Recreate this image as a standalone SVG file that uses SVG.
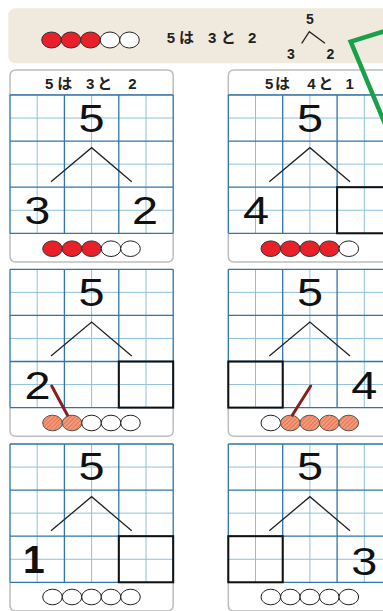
<svg xmlns="http://www.w3.org/2000/svg" xmlns:xlink="http://www.w3.org/1999/xlink" width="383" height="611" viewBox="0 0 383 611">
<style>
.gl{stroke:#8ec0dd;stroke-width:1}
.gd{stroke:#2f74ad;stroke-width:1.3}
.big{font-family:"Liberation Sans",Arial,sans-serif;font-size:39px;text-anchor:middle;fill:#111}
.one{font-family:"Liberation Sans",Arial,sans-serif;font-size:39px;font-weight:bold;fill:#111}
.hd{font-family:"Liberation Sans","Noto Sans CJK JP",sans-serif;font-weight:bold;font-size:15px;fill:#222}
.sm{font-family:"Liberation Sans",Arial,sans-serif;font-weight:bold;font-size:14px;fill:#222;text-anchor:middle}
.box{fill:none;stroke:#111;stroke-width:2}
.br{stroke:#222;stroke-width:1.3;fill:none}
.cr{fill:#e8202a;stroke:#333;stroke-width:1}
.cw{fill:#fff;stroke:#222;stroke-width:1}
.co{fill:url(#hatch);stroke:#555;stroke-width:1}
.border{fill:#fff;stroke:#bdbdbd;stroke-width:1.5}
.pen{stroke:#8b1d1d;stroke-width:3;stroke-linecap:round}
</style>
<defs>
<pattern id="hatch" patternUnits="userSpaceOnUse" width="3" height="3" patternTransform="rotate(45)">
<rect width="3" height="3" fill="#f39a7a"/>
<line x1="0" y1="0" x2="0" y2="3" stroke="#dc5a33" stroke-width="1.2"/>
</pattern>
<g id="grid">
<rect width="163.2" height="138.3" fill="#fff"/>
<path class="gl" d="M27.2 0V138.3M81.6 0V138.3M136 0V138.3M0 23.05H163.2M0 69.15H163.2M0 115.25H163.2"/>
<path class="gd" d="M0 0V138.3M54.4 0V138.3M108.8 0V138.3M163.2 0V138.3M0 0H163.2M0 46.1H163.2M0 92.2H163.2M0 138.3H163.2"/>
</g>
<path id="foot" class="border" d="M0 138.3V161Q0 167 6 167H157.2Q163.2 167 163.2 161V138.3"/>
<path id="head" class="border" d="M0 0V-19Q0 -25 6 -25H157.2Q163.2 -25 163.2 -19V0Z"/>
</defs>

<g id="header">
<rect x="8.3" y="8.3" width="420" height="55" rx="7" fill="#efe9de"/>
<ellipse class="cr" cx="51.5" cy="40" rx="9.8" ry="8"/>
<ellipse class="cr" cx="71" cy="40" rx="9.8" ry="8"/>
<ellipse class="cr" cx="90.5" cy="40" rx="9.8" ry="8"/>
<ellipse class="cw" cx="110" cy="40" rx="9.8" ry="8"/>
<ellipse class="cw" cx="129.5" cy="40" rx="9.8" ry="8"/>
<text class="hd" y="43.3" x="166.7 179 193 208 220.7 235 248">5は 3と 2</text>
<text class="sm" x="310" y="23.7">5</text>
<path class="br" d="M301.7 43.3L309.3 31.7L325 43.3"/>
<text class="sm" x="291" y="59">3</text>
<text class="sm" x="330.5" y="59">2</text>
</g>

<g id="card1" transform="translate(10,95)">
<use href="#head"/>
<use href="#foot"/>
<use href="#grid"/>
<text class="hd" y="-5.7" x="35 47.3 62 76 87.3 102 118.3">5は 3と 2</text>
<text class="big" transform="translate(81.6,36.7) scale(1.2,1)">5</text>
<text class="big" transform="translate(27.2,129.3) scale(1.2,1)">3</text>
<text class="big" transform="translate(135,129.3) scale(1.2,1)">2</text>
<ellipse class="cr" cx="42.5" cy="153.7" rx="9.8" ry="7.8"/>
<ellipse class="cr" cx="62" cy="153.7" rx="9.8" ry="7.8"/>
<ellipse class="cr" cx="81.5" cy="153.7" rx="9.8" ry="7.8"/>
<ellipse class="cw" cx="101" cy="153.7" rx="9.8" ry="7.8"/>
<ellipse class="cw" cx="120.5" cy="153.7" rx="9.8" ry="7.8"/>
</g>

<g id="card2" transform="translate(228.3,95)">
<use href="#head"/>
<use href="#foot"/>
<use href="#grid"/>
<text class="hd" y="-5.7" x="36.7 46.7 62 79 90 105 117.2">5は 4と 1</text>
<text class="big" transform="translate(81.6,36.7) scale(1.2,1)">5</text>
<text class="big" transform="translate(27.6,129.3) scale(1.2,1)">4</text>
<rect class="box" x="108.8" y="92.2" width="54.4" height="46.1"/>
<ellipse class="cr" cx="42.5" cy="153.7" rx="9.8" ry="7.8"/>
<ellipse class="cr" cx="62" cy="153.7" rx="9.8" ry="7.8"/>
<ellipse class="cr" cx="81.5" cy="153.7" rx="9.8" ry="7.8"/>
<ellipse class="cr" cx="101" cy="153.7" rx="9.8" ry="7.8"/>
<ellipse class="cw" cx="120.5" cy="153.7" rx="9.8" ry="7.8"/>
</g>

<g id="card3" transform="translate(10,269.3)">
<use href="#foot"/>
<use href="#grid"/>
<text class="big" transform="translate(81.6,36.7) scale(1.2,1)">5</text>
<text class="big" transform="translate(27.6,129.3) scale(1.2,1)">2</text>
<rect class="box" x="108.8" y="92.2" width="54.4" height="46.1"/>
<ellipse class="co" cx="42.5" cy="153.7" rx="9.8" ry="7.8"/>
<ellipse class="co" cx="62" cy="153.7" rx="9.8" ry="7.8"/>
<ellipse class="cw" cx="81.5" cy="153.7" rx="9.8" ry="7.8"/>
<ellipse class="cw" cx="101" cy="153.7" rx="9.8" ry="7.8"/>
<ellipse class="cw" cx="120.5" cy="153.7" rx="9.8" ry="7.8"/>
<line class="pen" x1="41.7" y1="116.7" x2="57.5" y2="146"/>
</g>

<g id="card4" transform="translate(228.3,269.3)">
<use href="#foot"/>
<use href="#grid"/>
<text class="big" transform="translate(81.6,36.7) scale(1.2,1)">5</text>
<rect class="box" x="0" y="92.2" width="54.4" height="46.1"/>
<text class="big" transform="translate(136,129.3) scale(1.2,1)">4</text>
<ellipse class="cw" cx="42.5" cy="153.7" rx="9.8" ry="7.8"/>
<ellipse class="co" cx="62" cy="153.7" rx="9.8" ry="7.8"/>
<ellipse class="co" cx="81.5" cy="153.7" rx="9.8" ry="7.8"/>
<ellipse class="co" cx="101" cy="153.7" rx="9.8" ry="7.8"/>
<ellipse class="co" cx="120.5" cy="153.7" rx="9.8" ry="7.8"/>
<line class="pen" x1="82.4" y1="116.7" x2="64" y2="146"/>
</g>

<g id="card5" transform="translate(10,444)">
<use href="#foot"/>
<use href="#grid"/>
<text class="big" transform="translate(81.6,36.2) scale(1.2,1)">5</text>
<text class="one" x="13.1" y="129.3">1</text>
<rect class="box" x="108.8" y="92.2" width="54.4" height="46.1"/>
<ellipse class="cw" cx="42.5" cy="153" rx="9.8" ry="7.8"/>
<ellipse class="cw" cx="62" cy="153" rx="9.8" ry="7.8"/>
<ellipse class="cw" cx="81.5" cy="153" rx="9.8" ry="7.8"/>
<ellipse class="cw" cx="101" cy="153" rx="9.8" ry="7.8"/>
<ellipse class="cw" cx="120.5" cy="153" rx="9.8" ry="7.8"/>
</g>

<g id="card6" transform="translate(228.3,444)">
<use href="#foot"/>
<use href="#grid"/>
<text class="big" transform="translate(81.6,36.2) scale(1.2,1)">5</text>
<rect class="box" x="0" y="92.2" width="54.4" height="46.1"/>
<text class="big" transform="translate(136,130.5) scale(1.2,1)">3</text>
<ellipse class="cw" cx="42.5" cy="153" rx="9.8" ry="7.8"/>
<ellipse class="cw" cx="62" cy="153" rx="9.8" ry="7.8"/>
<ellipse class="cw" cx="81.5" cy="153" rx="9.8" ry="7.8"/>
<ellipse class="cw" cx="101" cy="153" rx="9.8" ry="7.8"/>
<ellipse class="cw" cx="120.5" cy="153" rx="9.8" ry="7.8"/>
</g>

<g id="connectors">
<g transform="translate(10,95)"><path class="br" d="M41 86.8L81.6 52.7L121.7 86.8"/></g>
<g transform="translate(228.3,95)"><path class="br" d="M41 86.8L81.6 52.7L121.7 86.8"/></g>
<g transform="translate(10,269.3)"><path class="br" d="M41 86.8L81.6 52.7L121.7 86.8"/></g>
<g transform="translate(228.3,269.3)"><path class="br" d="M41 86.8L81.6 52.7L121.7 86.8"/></g>
<g transform="translate(10,444)"><path class="br" d="M41 86.8L81.6 52.7L121.7 86.8"/></g>
<g transform="translate(228.3,444)"><path class="br" d="M41 86.8L81.6 52.7L121.7 86.8"/></g>
</g>

<g id="green-mark">
<path d="M400 26.4L350.7 41.7L400 160" fill="none" stroke="#17a24a" stroke-width="4.5" stroke-linejoin="miter"/>
</g>
</svg>
